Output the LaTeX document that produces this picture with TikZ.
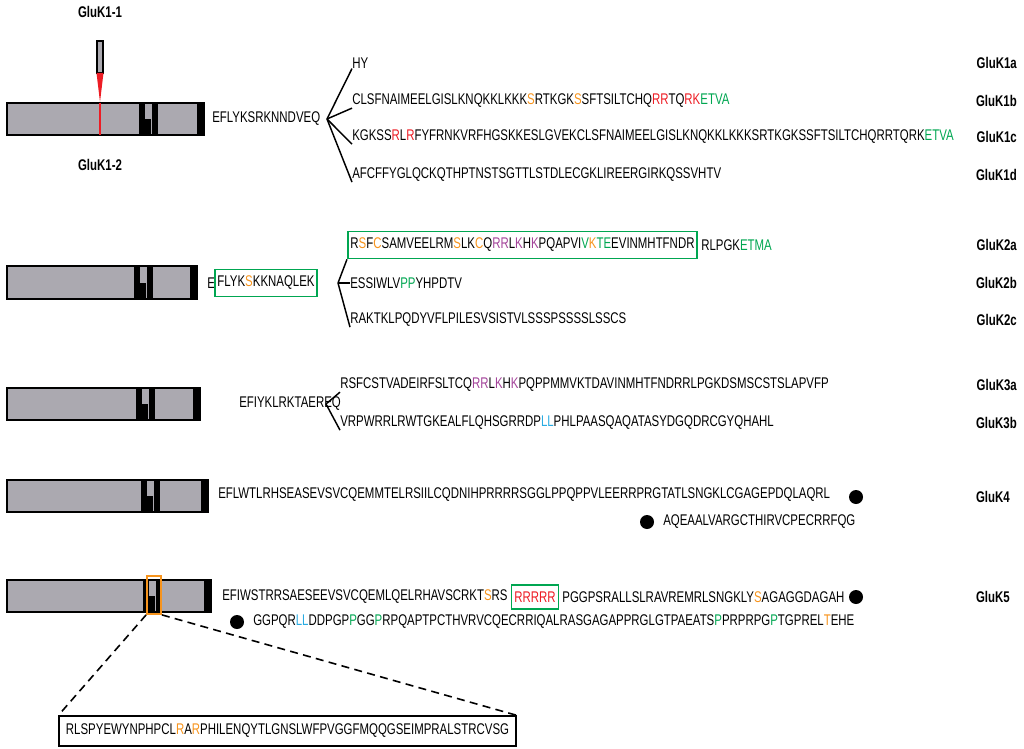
\documentclass[tikz,border=0pt]{standalone}
\usepackage{fontspec}
\setmainfont{Liberation Sans}[FakeStretch=0.74]
\usetikzlibrary{calc}
\definecolor{orng}{HTML}{F7941D}
\definecolor{rd}{HTML}{ED1C24}
\definecolor{grn}{HTML}{00A651}
\definecolor{prp}{HTML}{A3449A}
\definecolor{blu}{HTML}{29ABE2}
\definecolor{bargrey}{HTML}{ABA9B0}
\newcommand\cO[1]{\textcolor{orng}{#1}}
\newcommand\cR[1]{\textcolor{rd}{#1}}
\newcommand\cG[1]{\textcolor{grn}{#1}}
\newcommand\cP[1]{\textcolor{prp}{#1}}
\newcommand\cB[1]{\textcolor{blu}{#1}}
\newcommand\kbar[5]{%
  \fill[bargrey] (#1,#3) rectangle (#2,#4);
  \fill[black] (#5,#3) rectangle (#5+6,#4);
  \fill[black] (#5+6,{(#3+#4)/2}) rectangle (#5+12,#4);
  \fill[black] (#5+13,#3) rectangle (#5+19,#4);
  \fill[black] (#2-7,#3) rectangle (#2,#4);
  \draw[line width=1.6pt] (#1,#3) rectangle (#2,#4);}
\begin{document}
\begin{tikzpicture}[x=0.75pt,y=-0.75pt,
  seq/.style={font=\fontsize{11.6}{13}\selectfont, inner sep=0pt, anchor=west},
  lab/.style={font=\fontsize{11.6}{13}\selectfont\bfseries, inner sep=0pt, anchor=east},
  br/.style={line width=1.1pt},
  gbox/.style={draw=grn, line width=1.2pt, inner xsep=2pt, inner ysep=5pt},
  dot/.style={circle, fill=black, inner sep=0pt, minimum size=10.5pt}]
\useasboundingbox (0,0) rectangle (1024,749);
% ---- Row 1
\kbar{7}{204}{103}{135}{139}
\draw[rd, line width=1.2pt] (100,103) -- (100,135);
\draw[line width=1pt, fill=bargrey] (97,41) rectangle (103,73);
\fill[rd] (96.5,73) -- (103.5,73) -- (100,102) -- cycle;
\node[font=\fontsize{11.6}{13}\selectfont\bfseries, inner sep=0pt] (k11) at (100,12) {GluK1-1};
\node[font=\fontsize{11.6}{13}\selectfont\bfseries, inner sep=0pt] (k12) at (100,165) {GluK1-2};
\node[seq] (s1) at (212,119) {EFLYKSRKNNDVEQ};
\coordinate (b1) at (327,119);
\node[seq] (a1) at (352,63) {HY};
\node[seq] (a2) at (352,101) {CLSFNAIMEELGISLKNQKKLKKK\cO{S}RTKGK\cO{S}SFTSILTCHQ\cR{RR}TQ\cR{RK}\cG{ETVA}};
\node[seq] (a3) at (352,137) {KGKSS\cR{R}L\cR{R}FYFRNKVRFHGSKKESLGVEKCLSFNAIMEELGISLKNQKKLKKKSRTKGKSSFTSILTCHQRRTQRK\cG{ETVA}};
\node[seq] (a4) at (352,175) {AFCFFYGLQCKQTHPTNSTSGTTLSTDLECGKLIREERGIRKQSSVHTV};
\foreach \t in {a1,a2,a3,a4} \draw[br] (b1) -- (\t.south west);
\node[lab] at (1017,63) {GluK1a};
\node[lab] at (1017,101) {GluK1b};
\node[lab] at (1017,137) {GluK1c};
\node[lab] at (1017,175) {GluK1d};
% ---- Row 2
\kbar{7}{197}{266}{299}{134}
\node[seq] (e2) at (207,283) {E};
\node[seq, gbox, anchor=west] (s2) at (214,283) {FLYK\cO{S}KKNAQLEK};
\coordinate (b2) at (338,283);
\node[seq, gbox, anchor=west] (c1) at (347,245) {R\cO{S}F\cO{C}SAMVEELRM\cO{S}LK\cO{C}Q\cP{RR}L\cP{K}H\cP{K}PQAPVI\cG{V}\cO{K}\cG{TE}EVINMHTFNDR};
\node[seq] (c1b) at ($(c1.east)+(3,0)$) {RLPGK\cG{ETMA}};
\node[seq] (c2) at (350,283) {ESSIWLV\cG{PP}YHPDTV};
\node[seq] (c3) at (350,320) {RAKTKLPQDYVFLPILESVSISTVLSSSPSSSSLSSCS};
\draw[br] (b2) -- (c1.south west);
\draw[br] (b2) -- (c2.west);
\draw[br] (b2) -- (c3.south west);
\node[lab] at (1017,245) {GluK2a};
\node[lab] at (1017,283) {GluK2b};
\node[lab] at (1017,320) {GluK2c};
% ---- Row 3
\kbar{7}{200}{388}{420}{136}
\node[seq] (s3) at (239,404) {EFIYKLRKTAEREQ};
\coordinate (b3) at (326,404);
\node[seq] (d1) at (340,385) {RSFCSTVADEIRFSLTCQ\cP{RR}L\cP{K}H\cP{K}PQPPMMVKTDAVINMHTFNDRRLPGKDSMSCSTSLAPVFP};
\node[seq] (d2) at (340,423) {VRPWRRLRWTGKEALFLQHSGRRDP\cB{LL}PHLPAASQAQATASYDGQDRCGYQHAHL};
\draw[br] (b3) -- (d1.south west);
\draw[br] (b3) -- (d2.south west);
\node[lab] at (1017,385) {GluK3a};
\node[lab] at (1017,423) {GluK3b};
% ---- Row 4
\kbar{7}{208}{480}{512}{141}
\node[seq] (s4) at (218,495) {EFLWTLRHSEASEVSVCQEMMTELRSIILCQDNIHPRRRRSGGLPPQPPVLEERRPRGTATLSNGKLCGAGEPDQLAQRL};
\node[dot] (d4a) at (856,497) {};
\node[dot] (d4b) at (647,522) {};
\node[seq] (s4b) at (663,522) {AQEAALVARGCTHIRVCPECRRFQG};
\node[lab] at (1010,497) {GluK4};
% ---- Row 5
\kbar{7}{211}{580}{612}{143}
\node[draw=orng, line width=1.3pt, inner sep=0pt, minimum width=10.5pt, minimum height=28.5pt] (ob) at (154,595) {};
\node[seq] (s5a) at (222,597) {EFIWSTRRSAESEEVSVCQEMLQELRHAVSCRKT\cO{S}RS};
\node[seq, gbox, inner xsep=2pt, anchor=west] (s5b) at ($(s5a.east)+(3,0)$) {\cR{RRRRR}};
\node[seq] (s5c) at ($(s5b.east)+(3,0)$) {PGGPSRALLSLRAVREMRLSNGKLY\cO{S}AGAGGDAGAH};
\node[dot] (d5a) at (856,597) {};
\node[dot] (d5b) at (237,622) {};
\node[seq] (s5d) at (253,622) {GGPQR\cB{LL}DDPGP\cG{P}GG\cG{P}RPQAPTPCTHVRVCQECRRIQALRASGAGAPPRGLGTPAEATS\cG{P}PRPRPG\cG{P}TGPREL\cO{T}EHE};
\node[lab] at (1010,597) {GluK5};
\node[seq, draw, line width=1.3pt, inner xsep=5pt, inner ysep=6pt, anchor=center] (zb) at (287.5,731) {RLSPYEWYNPHPCL\cO{R}A\cO{R}PHILENQYTLGNSLWFPVGGFMQQGSEIMPRALSTRCVSG};
\draw[dashed, line width=1.2pt, dash pattern=on 6pt off 4pt] (ob.south west) -- (zb.north west);
\draw[dashed, line width=1.2pt, dash pattern=on 6pt off 4pt] (ob.south east) -- (zb.north east);
\end{tikzpicture}
\end{document}
